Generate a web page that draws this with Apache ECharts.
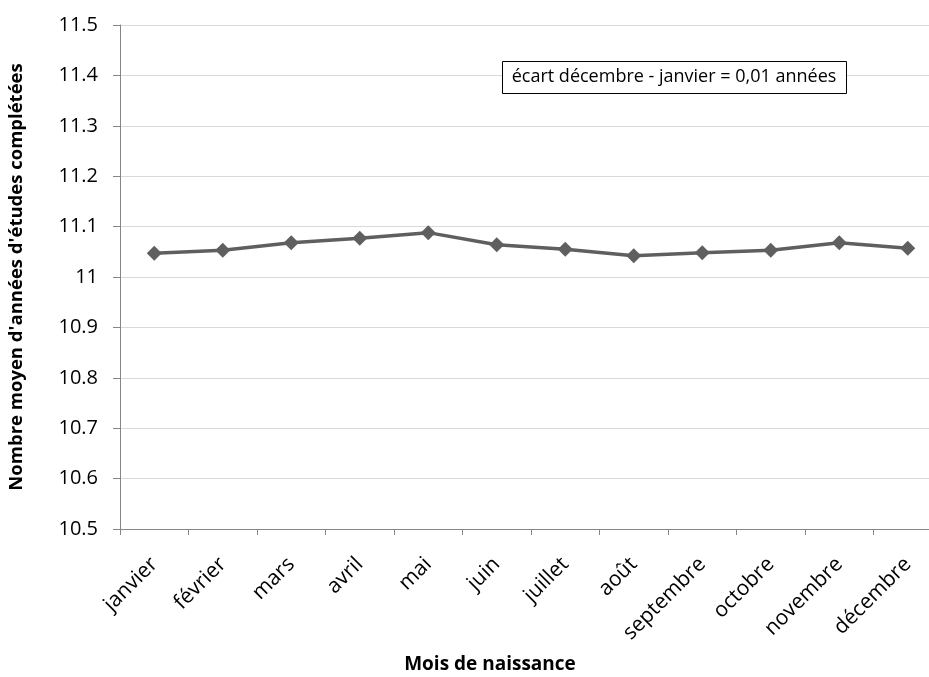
<!DOCTYPE html>
<html><head><meta charset="utf-8">
<script src="https://cdn.jsdelivr.net/npm/echarts@6/dist/echarts.min.js"></script>
<style>html,body{margin:0;padding:0;background:#fff}#c{width:929px;height:677px}</style>
</head><body><div id="c"></div>
<script>
const categories = ['janvier','février','mars','avril','mai','juin','juillet','août','septembre','octobre','novembre','décembre'];
const values = [11.047, 11.053, 11.068, 11.077, 11.088, 11.064, 11.055, 11.042, 11.048, 11.053, 11.068, 11.057];
const yMin = 10.5, yMax = 11.5, yStep = 0.1;
const annotation = 'écart décembre - janvier = 0,01 années';
const xTitle = 'Mois de naissance';
const yTitle = "Nombre moyen d'années d'études complétées";
const FONT = '"Open Sans", "Liberation Sans", sans-serif';

const chart = echarts.init(document.getElementById('c'), null, {renderer: 'canvas'});
chart.setOption({
  animation: false,
  backgroundColor: '#fff',
  grid: {left: 120, right: -13, top: 25, bottom: 148, containLabel: false, outerBoundsMode: 'none'},
  xAxis: {
    type: 'category', data: categories, boundaryGap: true,
    axisLine: {lineStyle: {color: '#868686', width: 1}},
    axisTick: {show: true, alignWithLabel: false, length: 6, lineStyle: {color: '#868686'}},
    axisLabel: {rotate: 45, fontSize: 21, color: '#000', fontFamily: FONT, margin: 32, interval: 0},
    name: xTitle, nameLocation: 'middle', nameGap: 126,
    nameTextStyle: {fontSize: 19, fontWeight: 'bold', color: '#000', fontFamily: FONT,
                    padding: [0, 82, 0, 0]}
  },
  yAxis: {
    type: 'value', min: yMin, max: yMax, interval: yStep,
    axisLine: {show: true, lineStyle: {color: '#868686'}},
    axisTick: {show: true, length: 7, inside: false, lineStyle: {color: '#868686'}},
    splitLine: {show: true, lineStyle: {color: '#d9d9d9', width: 1}},
    axisLabel: {fontSize: 20, color: '#000', fontFamily: FONT, margin: 22,
      formatter: v => String(Math.round(v * 10) / 10)},
    name: yTitle, nameLocation: 'middle', nameGap: 94, nameRotate: 90,
    nameTextStyle: {fontSize: 18.5, fontWeight: 'bold', color: '#000', fontFamily: FONT}
  },
  series: [{
    type: 'line', data: values,
    symbol: 'diamond', symbolSize: 15, showAllSymbol: true,
    lineStyle: {color: '#5f5f5f', width: 3.5},
    itemStyle: {color: '#5f5f5f'}
  }],
  graphic: [
    {type: 'rect', left: 502, top: 61, shape: {width: 344, height: 32},
     style: {fill: '#fff', stroke: '#000', lineWidth: 1}, z: 10},
    {type: 'text', x: 674, y: 77, z: 11,
     style: {text: annotation, fontSize: 18, fontFamily: FONT, fill: '#000',
             align: 'center', verticalAlign: 'middle'}}
  ]
});
</script></body></html>
